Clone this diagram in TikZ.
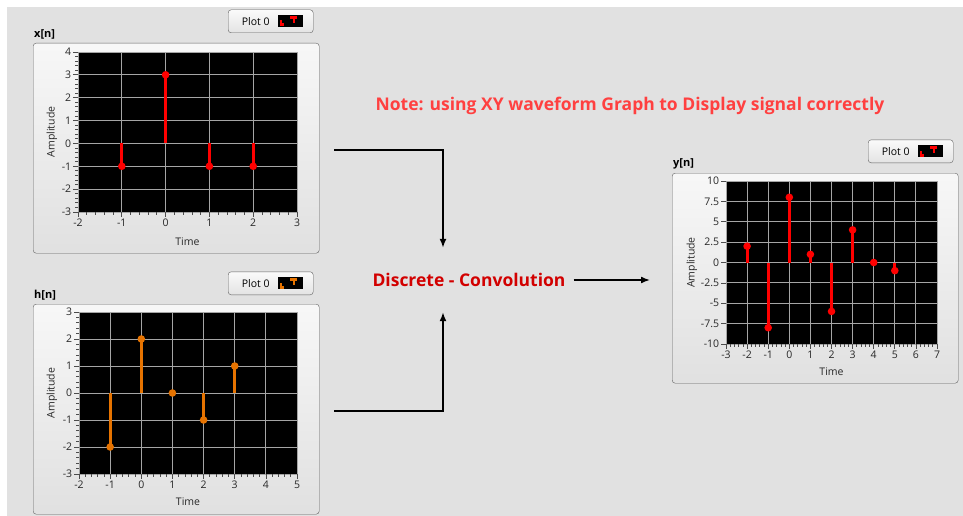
\documentclass[tikz,border=0pt]{standalone}
\usepackage{fontspec}
\setmainfont{Open Sans}
\usetikzlibrary{arrows.meta}

\definecolor{bggray}{RGB}{225,225,225}
\definecolor{gridgray}{RGB}{165,165,165}
\definecolor{stemred}{RGB}{255,0,0}
\definecolor{stemorange}{RGB}{230,115,0}
\definecolor{notered}{RGB}{255,64,64}
\definecolor{convred}{RGB}{210,0,0}
\definecolor{labeltext}{RGB}{40,40,40}

\begin{document}
\begin{tikzpicture}[x=1pt, y=-1pt, font=\fontsize{10.5}{12}\selectfont,
  panel/.style={draw=gray!75!black, rounded corners=3pt, top color=gray!6, bottom color=gray!24,
    minimum width=286pt, minimum height=210pt, anchor=north west, inner sep=0pt},
  plotbtn/.style={draw=gray!75!black, rounded corners=3pt, top color=gray!4, bottom color=gray!22,
    minimum width=85pt, minimum height=23pt, inner sep=0pt, anchor=south east, font=\fontsize{10.5}{12}\selectfont},
  iconbox/.style={fill=black, minimum width=25pt, minimum height=12pt, inner sep=0pt, anchor=east},
  paneltitle/.style={font=\bfseries\fontsize{11}{13}\selectfont, anchor=south west, inner sep=1pt},
  ticklabel/.style={text=labeltext, inner sep=1.5pt},
  axlabel/.style={text=labeltext, inner sep=0pt},
  gridline/.style={gridgray, line width=0.9pt},
  tickmark/.style={gray!60!black, line width=0.7pt},
  stemline/.style={line width=2.8pt},
  flow/.style={-{Latex[length=9pt,width=7pt]}, line width=1.6pt},
]

  \useasboundingbox (0,0) rectangle (963,516);

  %background
  \fill[white] (0,0) rectangle (963,516);
  \fill[bggray] (7,7) rectangle (963,516);

  %panels
  \node[panel] (xpanel) at (33,43) {};
  \node[panel] (hpanel) at (33,304) {};
  \node[panel] (ypanel) at (672,173) {};

  \node[paneltitle] (xtitle) at ([yshift=3pt]xpanel.north west) {x[n]};
  \node[paneltitle] (htitle) at ([yshift=3pt]hpanel.north west) {h[n]};
  \node[paneltitle] (ytitle) at ([yshift=3pt]ypanel.north west) {y[n]};

  %plot buttons
  \node[plotbtn] (xbtn) at ([xshift=-6pt,yshift=10pt]xpanel.north east) {Plot 0\kern30pt};
  \node[plotbtn] (hbtn) at ([xshift=-6pt,yshift=9pt]hpanel.north east) {Plot 0\kern30pt};
  \node[plotbtn] (ybtn) at ([xshift=-5pt,yshift=10pt]ypanel.north east) {Plot 0\kern30pt};
  \node[iconbox] (xicon) at ([xshift=-10pt]xbtn.east) {};
  \node[iconbox] (hicon) at ([xshift=-10pt]hbtn.east) {};
  \node[iconbox] (yicon) at ([xshift=-10pt]ybtn.east) {};
  \foreach \ic/\col in {xicon/stemred, hicon/stemorange, yicon/stemred} {
    \fill[\col] ([shift={(2pt,1pt)}]\ic.south west) rectangle ++(2pt,6pt);
    \fill[\col] ([shift={(2pt,1pt)}]\ic.south west) rectangle ++(4pt,3pt);
    \fill[\col] ([shift={(12pt,-1pt)}]\ic.north west) rectangle ++(7pt,-3pt);
    \fill[\col] ([shift={(14.5pt,-1pt)}]\ic.north west) rectangle ++(2pt,-7pt);
  }

  %x[n] graph
  \begin{scope}[shift={(165.6,143.4)}, x=43.8pt, y=22.86pt]
    \fill[black] (-2,-3) rectangle (3,4);
    \foreach \x in {-1,...,2} \draw[gridline] (\x,-3) -- (\x,4);
    \foreach \y in {-2,...,3} \draw[gridline] (-2,\y) -- (3,\y);
    \draw[gridline] (-2,-3) rectangle (3,4);
    % ticks
    \foreach \x [count=\i] in {-2,...,3}
      \draw[tickmark] (\x,-3) -- ++(0,-5pt) node[ticklabel, below] (xx\i) {\x};
    \foreach \x in {-2,-1.8,...,3} \draw[tickmark] (\x,-3) -- ++(0,-3pt);
    \foreach \y [count=\i] in {-3,...,4}
      \draw[tickmark] (-2,\y) -- ++(-5pt,0) node[ticklabel, left] (xy\i) {\y};
    \foreach \y in {-3,-2.8,...,4} \draw[tickmark] (-2,\y) -- ++(-3pt,0);
    \node[axlabel, rotate=90] (xamp) at ([xshift=-26pt]-2,0.5) {Amplitude};
    \node[axlabel] (xtime) at ([yshift=-30pt]0.5,-3) {Time};
    % stems
    \foreach \t/\v in {-1/-1,0/3,1/-1,2/-1} {
      \draw[stemline, stemred] (\t,0) -- (\t,\v);
      \fill[stemred] (\t,\v) circle (3.8pt);
    }
  \end{scope}

  %h[n] graph
  \begin{scope}[shift={(141.3,393)}, x=31.14pt, y=27pt]
    \fill[black] (-2,-3) rectangle (5,3);
    \foreach \x in {-1,...,4} \draw[gridline] (\x,-3) -- (\x,3);
    \foreach \y in {-2,...,2} \draw[gridline] (-2,\y) -- (5,\y);
    \draw[gridline] (-2,-3) rectangle (5,3);
    % ticks
    \foreach \x [count=\i] in {-2,...,5}
      \draw[tickmark] (\x,-3) -- ++(0,-5pt) node[ticklabel, below] (hx\i) {\x};
    \foreach \x in {-2,-1.8,...,5} \draw[tickmark] (\x,-3) -- ++(0,-3pt);
    \foreach \y [count=\i] in {-3,...,3}
      \draw[tickmark] (-2,\y) -- ++(-5pt,0) node[ticklabel, left] (hy\i) {\y};
    \foreach \y in {-3,-2.8,...,3} \draw[tickmark] (-2,\y) -- ++(-3pt,0);
    \node[axlabel, rotate=90] (hamp) at ([xshift=-27pt]-2,0) {Amplitude};
    \node[axlabel] (htime) at ([yshift=-28pt]1.5,-3) {Time};
    % stems
    \foreach \t/\v in {-1/-2,0/2,1/0,2/-1,3/1} {
      \draw[stemline, stemorange] (\t,0) -- (\t,\v);
      \fill[stemorange] (\t,\v) circle (3.8pt);
    }
  \end{scope}

  %y[n] graph
  \begin{scope}[shift={(789.3,262.5)}, x=21.1pt, y=8.15pt]
    \fill[black] (-3,-10) rectangle (7,10);
    \foreach \x in {-2,...,6} \draw[gridline] (\x,-10) -- (\x,10);
    \foreach \y in {-7.5,-5,-2.5,0,2.5,5,7.5} \draw[gridline] (-3,\y) -- (7,\y);
    \draw[gridline] (-3,-10) rectangle (7,10);
    % ticks
    \foreach \x [count=\i] in {-3,...,7}
      \draw[tickmark] (\x,-10) -- ++(0,-5pt) node[ticklabel, below] (yx\i) {\x};
    \foreach \x in {-3,-2.8,...,7} \draw[tickmark] (\x,-10) -- ++(0,-3pt);
    \foreach \y [count=\i] in {-10,-7.5,-5,-2.5,0,2.5,5,7.5,10}
      \draw[tickmark] (-3,\y) -- ++(-5pt,0) node[ticklabel, left] (yy\i) {\y};
    \node[axlabel, rotate=90] (yamp) at ([xshift=-34pt]-3,0) {Amplitude};
    \node[axlabel] (ytime) at ([yshift=-28pt]2,-10) {Time};
    % stems
    \foreach \t/\v in {-2/2,-1/-8,0/8,1/1,2/-6,3/4,4/0,5/-1} {
      \draw[stemline, stemred] (\t,0) -- (\t,\v);
      \fill[stemred] (\t,\v) circle (3.8pt);
    }
  \end{scope}

  %texts
  \node[text=notered, font=\bfseries\fontsize{17.5}{20}\selectfont] (note) at (630,106)
    {Note: using XY waveform Graph to Display signal correctly};
  \node[text=convred, font=\bfseries\fontsize{17.5}{20}\selectfont, minimum height=64pt, inner xsep=8pt] (conv)
    at (469,280) {Discrete - Convolution};

  %connectors
  \draw[flow] ([xshift=15pt,yshift=-2pt]xpanel.east) -| ([xshift=-26pt]conv.north);
  \draw[flow] ([xshift=15pt,yshift=-2pt]hpanel.east) -| ([xshift=-26pt]conv.south);
  \draw[flow, shorten >=22pt] (conv.east) -- (conv.east -| ypanel.west);
\end{tikzpicture}
\end{document}
